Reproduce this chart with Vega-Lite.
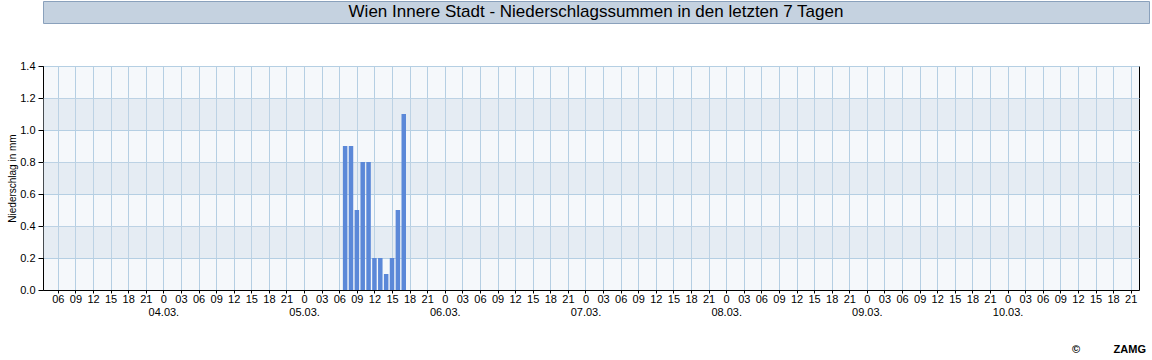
{
  "$schema": "https://vega.github.io/schema/vega-lite/v6.json",
  "padding": {"left": 0, "top": 0, "right": 0, "bottom": 0},
  "background": "white",
  "spacing": 35,
  "config": {"font": "Liberation Sans", "view": {"stroke": null}},
  "vconcat": [
    {
      "width": 1106,
      "height": 22,
      "view": {"fill": "#c5d2e0", "stroke": "#8aa1bc", "strokeWidth": 1},
      "data": {"values": [{"title": "Wien Innere Stadt - Niederschlagssummen in den letzten 7 Tagen"}]},
      "mark": {"type": "text", "fontSize": 17, "color": "#000000"},
      "encoding": {"text": {"field": "title"}}
    },
    {
      "width": 1096,
      "height": 224,
      "view": {"fill": "#f5f8fb", "stroke": "#000000"},
      "title": {"text": "©\u00a0\u00a0\u00a0\u00a0\u00a0\u00a0\u00a0\u00a0\u00a0\u00a0\u00a0ZAMG", "orient": "bottom", "anchor": "end", "fontSize": 11, "fontWeight": "bold", "color": "#000000", "offset": 26, "dx": 7},
      "layer": [
        {
          "data": {"values": [{"y0": 0.2, "y1": 0.4}, {"y0": 0.6, "y1": 0.8}, {"y0": 1.0, "y1": 1.2}]},
          "mark": {"type": "rect", "fill": "#c9d6e6", "opacity": 0.35},
          "encoding": {
            "y": {
              "field": "y0", "type": "quantitative",
              "title": ["", "Niederschlag in mm"],
              "scale": {"domain": [0, 1.4]},
              "axis": {
                "values": [0, 0.2, 0.4, 0.6, 0.8, 1.0, 1.2, 1.4],
                "format": ".1f",
                "labelOverlap": false,
                "tickSize": 5,
                "tickColor": "#000000",
                "domainColor": "#000000",
                "labelColor": "#000000",
                "labelFontSize": 11,
                "labelPadding": 3,
                "gridColor": "#b5cfe3",
                "gridOpacity": 1,
                "titleFontSize": 10,
                "titleFontWeight": "normal",
                "titleColor": "#000000",
                "titlePadding": 2,
                "titleLineHeight": 7
              }
            },
            "y2": {"field": "y1"}
          }
        },
        {
          "data": {"values": [
            {"time": "2024-03-05T07:00:00Z", "mm": 0.9},
            {"time": "2024-03-05T08:00:00Z", "mm": 0.9},
            {"time": "2024-03-05T09:00:00Z", "mm": 0.5},
            {"time": "2024-03-05T10:00:00Z", "mm": 0.8},
            {"time": "2024-03-05T11:00:00Z", "mm": 0.8},
            {"time": "2024-03-05T12:00:00Z", "mm": 0.2},
            {"time": "2024-03-05T13:00:00Z", "mm": 0.2},
            {"time": "2024-03-05T14:00:00Z", "mm": 0.1},
            {"time": "2024-03-05T15:00:00Z", "mm": 0.2},
            {"time": "2024-03-05T16:00:00Z", "mm": 0.5},
            {"time": "2024-03-05T17:00:00Z", "mm": 1.1}
          ]},
          "mark": {"type": "bar", "width": 4.5, "color": "#5b88d8"},
          "encoding": {
            "x": {
              "field": "time", "type": "temporal",
              "scale": {"type": "utc", "domain": [1709439540000, 1710106440000]},
              "axis": {
                "title": null,
                "tickCount": 62,
                "labelExpr": "utchours(datum.value) == 0 ? ['0', utcFormat(datum.value, '%d.%m.')] : utcFormat(datum.value, '%H')",
                "labelFlush": false,
                "labelOverlap": false,
                "tickSize": 3,
                "tickColor": "#000000",
                "domainColor": "#000000",
                "labelColor": "#000000",
                "labelFontSize": 11,
                "labelPadding": 0,
                "labelLineHeight": 13.5,
                "gridColor": "#b5cfe3",
                "gridOpacity": 1
              }
            },
            "y": {
              "field": "mm", "type": "quantitative",
              "title": ["", "Niederschlag in mm"],
              "scale": {"domain": [0, 1.4]},
              "axis": {
                "values": [0, 0.2, 0.4, 0.6, 0.8, 1.0, 1.2, 1.4],
                "format": ".1f",
                "labelOverlap": false,
                "tickSize": 5,
                "tickColor": "#000000",
                "domainColor": "#000000",
                "labelColor": "#000000",
                "labelFontSize": 11,
                "labelPadding": 3,
                "gridColor": "#b5cfe3",
                "gridOpacity": 1,
                "titleFontSize": 10,
                "titleFontWeight": "normal",
                "titleColor": "#000000",
                "titlePadding": 2,
                "titleLineHeight": 7
              }
            }
          }
        }
      ]
    }
  ]
}
